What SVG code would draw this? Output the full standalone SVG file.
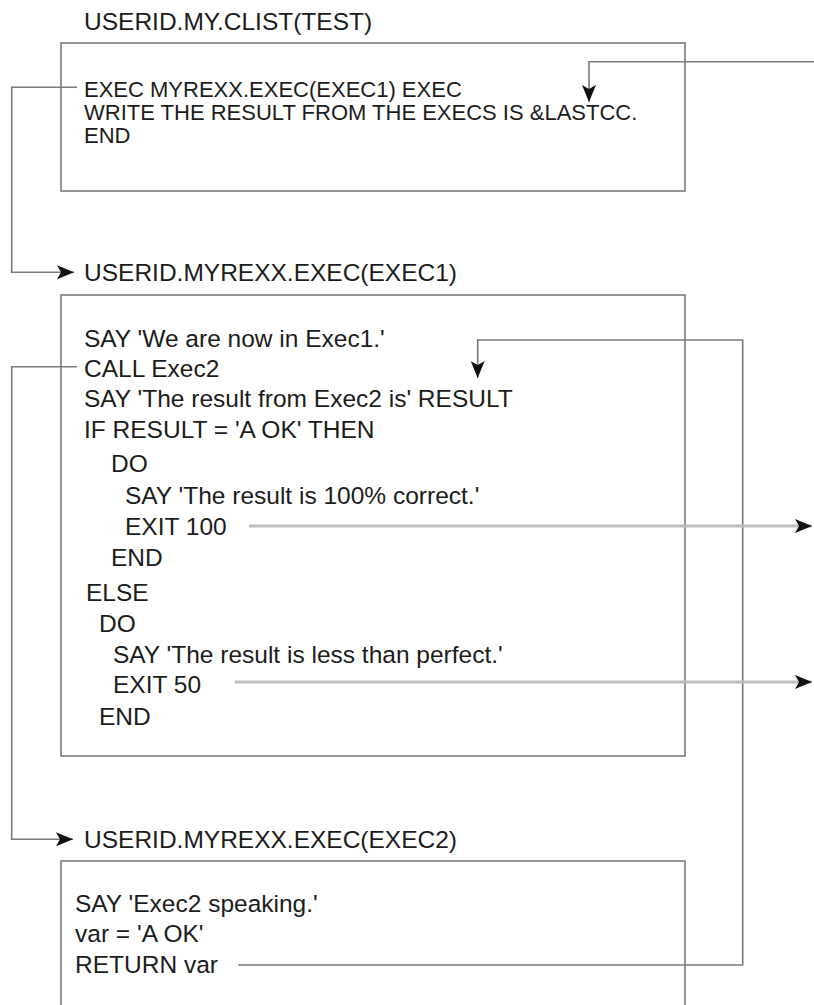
<svg xmlns="http://www.w3.org/2000/svg" width="814" height="1005" viewBox="0 0 814 1005">
<style>
  .bg { fill: #ffffff; }
  .box { fill: none; stroke: #7a7a7a; stroke-width: 1.6; }
  .t { font-family: "Liberation Sans", Arial, sans-serif; fill: #1c1c1c; }
  .title { font-size: 24.5px; }
  .body1 { font-size: 22px; }
  .body { font-size: 24.5px; }
  .conn { fill: none; stroke: #7a7a7a; stroke-width: 1.6; }
  .exit { fill: none; stroke: #bdbdbd; stroke-width: 3; }
</style>
<defs>
  <marker id="ah" viewBox="0 0 17 14" refX="17" refY="7" markerWidth="17" markerHeight="14" orient="auto" markerUnits="userSpaceOnUse">
    <path d="M0,0 L17,7 L0,14 L4,7 Z" fill="#111111"/>
  </marker>
</defs>
<rect class="bg" x="0" y="0" width="814" height="1005"/>

<g id="clist">
  <text class="t title" x="84" y="30">USERID.MY.CLIST(TEST)</text>
  <rect class="box" x="61" y="43" width="624" height="148"/>
  <text class="t body1" x="84" y="97">EXEC MYREXX.EXEC(EXEC1) EXEC</text>
  <text class="t body1" x="84" y="120">WRITE THE RESULT FROM THE EXECS IS &amp;LASTCC.</text>
  <text class="t body1" x="84" y="143">END</text>
</g>

<g id="exec1">
  <text class="t title" x="84" y="281">USERID.MYREXX.EXEC(EXEC1)</text>
  <rect class="box" x="61" y="295" width="624" height="461"/>
  <text class="t body" x="84" y="346.5">SAY 'We are now in Exec1.'</text>
  <text class="t body" x="84" y="376.5">CALL Exec2</text>
  <text class="t body" x="84" y="407">SAY 'The result from Exec2 is' RESULT</text>
  <text class="t body" x="84" y="438">IF RESULT = 'A OK' THEN</text>
  <text class="t body" x="111" y="472">DO</text>
  <text class="t body" x="125" y="504">SAY 'The result is 100% correct.'</text>
  <text class="t body" x="125" y="535">EXIT 100</text>
  <text class="t body" x="111" y="566">END</text>
  <text class="t body" x="86" y="601">ELSE</text>
  <text class="t body" x="99" y="632">DO</text>
  <text class="t body" x="113" y="663">SAY 'The result is less than perfect.'</text>
  <text class="t body" x="113" y="693">EXIT 50</text>
  <text class="t body" x="99" y="725">END</text>
</g>

<g id="exec2">
  <text class="t title" x="84" y="848">USERID.MYREXX.EXEC(EXEC2)</text>
  <rect class="box" x="61" y="861" width="624" height="160"/>
  <text class="t body" x="75" y="912">SAY 'Exec2 speaking.'</text>
  <text class="t body" x="75" y="942">var = 'A OK'</text>
  <text class="t body" x="75" y="973">RETURN var</text>
</g>

<g id="connectors">
  <path class="conn" d="M814,61.7 H589 V102" marker-end="url(#ah)"/>
  <path class="conn" d="M77,87.3 H11.7 V272.3 H74" marker-end="url(#ah)"/>
  <path class="conn" d="M77,366.7 H11.7 V839.3 H73" marker-end="url(#ah)"/>
  <path class="conn" d="M238,965 H742.7 V340 H477.7 V378" marker-end="url(#ah)"/>
  <path class="exit" d="M249,526 H812" marker-end="url(#ah)"/>
  <path class="exit" d="M234.7,682 H812" marker-end="url(#ah)"/>
</g>
</svg>
